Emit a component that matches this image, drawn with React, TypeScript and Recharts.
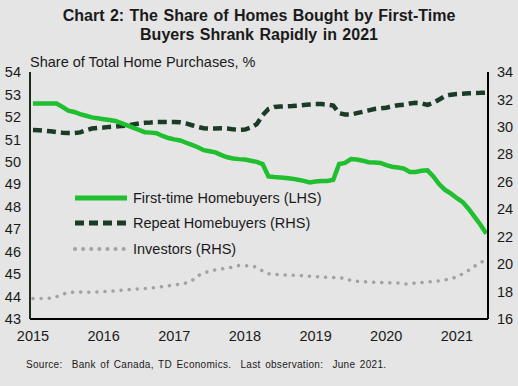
import React from "react";
import { LineChart, Line, XAxis, YAxis } from "recharts";

// Monthly observations, Jan 2015 - Jun 2021
const START_YEAR = 2015;

const firstTime = [
  52.6, 52.6, 52.6, 52.6, 52.6, 52.45, 52.28, 52.22, 52.12, 52.05, 51.98, 51.94,
  51.9, 51.86, 51.82, 51.72, 51.62, 51.52, 51.42, 51.32, 51.3, 51.27, 51.15, 51.06,
  51.0, 50.95, 50.85, 50.75, 50.65, 50.52, 50.47, 50.42, 50.3, 50.2, 50.15, 50.12,
  50.1, 50.05, 50.0, 49.9, 49.35, 49.32, 49.3, 49.28, 49.25, 49.2, 49.15, 49.08,
  49.12, 49.15, 49.15, 49.2, 49.9, 49.95, 50.12, 50.1, 50.05, 49.98, 49.97, 49.95,
  49.85, 49.78, 49.75, 49.7, 49.55, 49.55, 49.6, 49.62, 49.35, 49.0, 48.75, 48.58,
  48.38, 48.2, 47.9, 47.55, 47.2, 46.8,
];

const repeat = [
  29.77, 29.75, 29.72, 29.68, 29.62, 29.58, 29.55, 29.55, 29.6, 29.75, 29.88, 29.92,
  29.95, 30.0, 30.02, 30.07, 30.1, 30.18, 30.25, 30.3, 30.32, 30.35, 30.35, 30.35,
  30.35, 30.33, 30.25, 30.12, 30.0, 29.9, 29.88, 29.88, 29.9, 29.88, 29.82, 29.78,
  29.8, 29.95, 30.2, 30.85, 31.3, 31.45, 31.48, 31.5, 31.52, 31.55, 31.6, 31.63,
  31.66, 31.66, 31.62, 31.55, 31.0, 30.9, 30.9, 31.0, 31.1, 31.2, 31.3, 31.35,
  31.4, 31.5, 31.58, 31.62, 31.7, 31.75, 31.72, 31.6, 31.75, 32.0, 32.25, 32.35,
  32.4, 32.42, 32.45, 32.47, 32.48, 32.5,
];

const investors = [
  17.5, 17.5, 17.5, 17.52, 17.62, 17.8, 17.92, 17.96, 17.96, 17.95, 17.95, 17.98,
  18.0, 18.02, 18.05, 18.1, 18.13, 18.17, 18.2, 18.22, 18.25, 18.3, 18.36, 18.42,
  18.48, 18.55, 18.62, 18.8, 19.15, 19.35, 19.48, 19.58, 19.65, 19.7, 19.8, 19.9,
  19.9, 19.85, 19.78, 19.5, 19.3, 19.25, 19.22, 19.2, 19.2, 19.18, 19.15, 19.12,
  19.1, 19.06, 19.04, 19.02, 19.0, 18.97, 18.8, 18.75, 18.72, 18.7, 18.68, 18.66,
  18.64, 18.63, 18.62, 18.56, 18.55, 18.62, 18.66, 18.7, 18.74, 18.78, 18.85, 18.95,
  19.06, 19.3, 19.55, 19.85, 20.1, 20.35,
];

const yearTicks = [2015, 2016, 2017, 2018, 2019, 2020, 2021];
const leftTicks = [43, 44, 45, 46, 47, 48, 49, 50, 51, 52, 53, 54];
const rightTicks = [16, 18, 20, 22, 24, 26, 28, 30, 32, 34];

const data = firstTime.map((v, i) => ({
  t: START_YEAR + i / 12,
  firstTime: v,
  repeat: repeat[i],
  investors: investors[i],
}));

const GREEN = "#1fbf2f";
const DARK = "#1b3b27";
const GREY = "#a3a3a3";
const FONT = "Arial, 'Liberation Sans', sans-serif";

const legendItems = [
  { label: "First-time Homebuyers (LHS)", color: GREEN, dash: undefined, width: 5 },
  { label: "Repeat Homebuyers (RHS)", color: DARK, dash: "9 5", width: 5 },
  { label: "Investors (RHS)", color: GREY, dash: "0.1 8", width: 4 },
];

const LegendBox = () => (
  <div
    style={{
      position: "absolute",
      left: 73,
      top: 185,
      fontSize: 14.5,
      color: "#1a1a1a",
    }}
  >
    {legendItems.map((it) => (
      <div key={it.label} style={{ display: "flex", alignItems: "center", height: 25.5 }}>
        <svg width={56} height={10} style={{ marginRight: 4 }}>
          <line
            x1={2}
            y1={5}
            x2={54}
            y2={5}
            stroke={it.color}
            strokeWidth={it.width}
            strokeDasharray={it.dash}
            strokeLinecap={it.dash === "0.1 8" ? "round" : "butt"}
          />
        </svg>
        <span>{it.label}</span>
      </div>
    ))}
  </div>
);

export default function App() {
  return (
    <div
      style={{
        position: "absolute",
        left: 0,
        top: 0,
        width: 518,
        height: 386,
        background: "#e5e5e5",
        fontFamily: FONT,
      }}
    >
      <div
        style={{
          position: "absolute",
          top: 6,
          left: 0,
          width: 518,
          textAlign: "center",
          fontWeight: "bold",
          fontSize: 16,
          lineHeight: "19px",
          color: "#1a1a1a",
          wordSpacing: 1,
        }}
      >
        Chart 2: The Share of Homes Bought by First-Time
        <br />
        Buyers Shrank Rapidly in 2021
      </div>
      <div
        style={{
          position: "absolute",
          top: 54,
          left: 30,
          fontSize: 14.5,
          color: "#1a1a1a",
        }}
      >
        Share of Total Home Purchases, %
      </div>
      <LineChart
        width={518}
        height={386}
        data={data}
        margin={{ top: 72, right: 0, bottom: 0, left: 0 }}
      >
        <XAxis
          dataKey="t"
          type="number"
          domain={[2014.958, 2021.44]}
          ticks={yearTicks}
          allowDataOverflow
          height={67}
          tickLine={false}
          tickSize={0}
          tickMargin={12}
          axisLine={{ stroke: "#000", strokeWidth: 2 }}
          tick={{ fill: "#1a1a1a", fontSize: 14.5, fontFamily: FONT }}
        />
        <YAxis
          yAxisId="left"
          orientation="left"
          domain={[43, 54]}
          ticks={leftTicks}
          interval={0}
          width={30}
          tickLine={false}
          tickSize={0}
          tickMargin={9}
          axisLine={{ stroke: "#1c2b1c", strokeWidth: 2 }}
          tick={{ fill: "#1a1a1a", fontSize: 14.5, fontFamily: FONT }}
        />
        <YAxis
          yAxisId="right"
          orientation="right"
          domain={[16, 34]}
          ticks={rightTicks}
          interval={0}
          width={30}
          tickLine={false}
          tickSize={0}
          tickMargin={9}
          axisLine={{ stroke: "#000", strokeWidth: 2 }}
          tick={{ fill: "#1a1a1a", fontSize: 14.5, fontFamily: FONT, textAnchor: "start" }}
        />
        <Line
          yAxisId="right"
          dataKey="investors"
          stroke={GREY}
          strokeWidth={3.5}
          strokeDasharray="0.1 8"
          strokeLinecap="round"
          dot={false}
          isAnimationActive={false}
        />
        <Line
          yAxisId="right"
          dataKey="repeat"
          stroke={DARK}
          strokeWidth={4.5}
          strokeDasharray="9 5"
          dot={false}
          isAnimationActive={false}
        />
        <Line
          yAxisId="left"
          dataKey="firstTime"
          stroke={GREEN}
          strokeWidth={4.5}
          dot={false}
          isAnimationActive={false}
        />
      </LineChart>
      <LegendBox />
      <div
        style={{
          position: "absolute",
          top: 359,
          left: 26,
          fontSize: 10,
          letterSpacing: 0.3,
          wordSpacing: 1.5,
          color: "#1a1a1a",
          whiteSpace: "pre",
        }}
      >
        {"Source:  Bank of Canada, TD Economics.  Last observation:  June 2021."}
      </div>
    </div>
  );
}
